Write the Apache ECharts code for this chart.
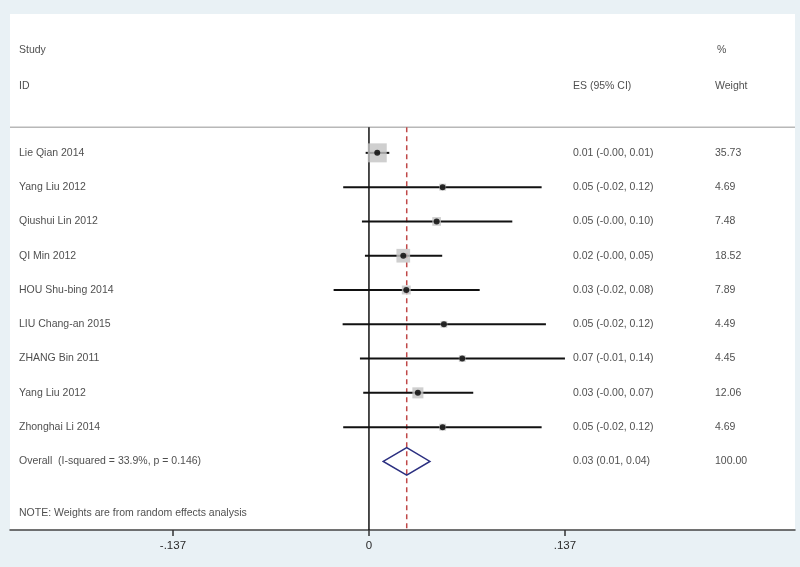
<!DOCTYPE html>
<html>
<head>
<meta charset="utf-8">
<script src="https://cdn.jsdelivr.net/npm/echarts@6/dist/echarts.min.js"></script>
<style>
html,body{margin:0;padding:0;background:#e9f1f5;}
#c{width:800px;height:567px;}
</style>
</head>
<body>
<div id="c"></div>
<script>
const studies = ['Lie Qian 2014','Yang Liu 2012','Qiushui Lin 2012','QI Min 2012','HOU Shu-bing 2014','LIU Chang-an 2015','ZHANG Bin 2011','Yang Liu 2012','Zhonghai Li 2014'];
const es = [0.0058, 0.0515, 0.0473, 0.0240, 0.0261, 0.0524, 0.0652, 0.0342, 0.0515];
const lo = [-0.0023, -0.0180, -0.0049, -0.0028, -0.0247, -0.0184, -0.0063, -0.0040, -0.0180];
const hi = [0.0142, 0.1207, 0.1002, 0.0512, 0.0774, 0.1237, 0.1370, 0.0729, 0.1207];
const weights = [35.73, 4.69, 7.48, 18.52, 7.89, 4.49, 4.45, 12.06, 4.69];
const esLabels = ['0.01 (-0.00, 0.01)','0.05 (-0.02, 0.12)','0.05 (-0.00, 0.10)','0.02 (-0.00, 0.05)','0.03 (-0.02, 0.08)','0.05 (-0.02, 0.12)','0.07 (-0.01, 0.14)','0.03 (-0.00, 0.07)','0.05 (-0.02, 0.12)'];
const weightLabels = ['35.73','4.69','7.48','18.52','7.89','4.49','4.45','12.06','4.69'];
const overallLabel = 'Overall  (I-squared = 33.9%, p = 0.146)';
const overallEs = 0.0264, overallLo = 0.0100, overallHi = 0.0426;
const overallEsLabel = '0.03 (0.01, 0.04)';
const overallWeightLabel = '100.00';
const noteText = 'NOTE: Weights are from random effects analysis';
const tickValues = [-0.137, 0, 0.137];
const tickLabels = ['-.137', '0', '.137'];

const overallRow = studies.length;
const FONT = 'Liberation Sans';
const TXT = '#222';

function textSeries(items, col) {
  return {
    type: 'scatter', xAxisIndex: 1, yAxisIndex: 0, symbolSize: 0, silent: true,
    data: items.map(it => ({value: [col, it[1]], name: it[0]})),
    label: {show: true, position: 'right', distance: 0, formatter: p => p.name,
      color: TXT, fontFamily: FONT, fontSize: 10.5}
  };
}

const leftCol = studies.map((s, i) => [s, i]).concat([[overallLabel, overallRow], [noteText, overallRow + 1.5], ['Study', -3], ['ID', -1.95]]);
const esCol = esLabels.map((s, i) => [s, i]).concat([[overallEsLabel, overallRow], ['ES (95% CI)', -1.95]]);
const wCol = weightLabels.map((s, i) => [s, i]).concat([[overallWeightLabel, overallRow], ['Weight', -1.95]]);
const pctCol = [['%', -3]];

const option = {
  backgroundColor: '#e9f1f5',
  animation: false,
  grid: {left: 10, right: 5, top: 14, bottom: 37, show: true, backgroundColor: '#ffffff', borderWidth: 0},
  xAxis: [
    {type: 'value', min: -0.2509, max: 0.2978, splitLine: {show: false},
      axisLine: {show: true, onZero: false, lineStyle: {color: '#444', width: 1.5}},
      axisTick: {show: true, customValues: tickValues, length: 6, lineStyle: {color: '#333', width: 1.5}},
      axisLabel: {customValues: tickValues, margin: 10, color: '#2a2a2a', fontFamily: FONT, fontSize: 11.5,
        formatter: v => { const k = tickValues.findIndex(t => Math.abs(t - v) < 1e-9); return k >= 0 ? tickLabels[k] : ''; }}
    },
    {type: 'value', min: 10, max: 795, show: false}
  ],
  yAxis: {type: 'value', inverse: true, min: -4.05, max: 11, show: false},
  series: [
    {
      type: 'custom', xAxisIndex: 1, silent: true,
      data: [[10, 795, -0.75]],
      renderItem: (params, api) => {
        const a = api.coord([api.value(0), api.value(2)]);
        const b = api.coord([api.value(1), api.value(2)]);
        return {type: 'line', shape: {x1: a[0], y1: a[1], x2: b[0], y2: b[1]}, style: {stroke: '#b8b8b8', lineWidth: 1.5}};
      }
    },
    {
      type: 'custom', silent: true,
      data: [[0, -0.75, 11, 0], [overallEs, -0.75, 11, 1]],
      renderItem: (params, api) => {
        const a = api.coord([api.value(0), api.value(1)]);
        const b = api.coord([api.value(0), api.value(2)]);
        const dashed = api.value(3) === 1;
        return {type: 'line', shape: {x1: a[0], y1: a[1], x2: b[0], y2: b[1]},
          style: dashed ? {stroke: '#c04848', lineWidth: 1.5, lineDash: [5, 4]} : {stroke: '#111', lineWidth: 1.5}};
      }
    },
    {
      type: 'scatter', symbol: 'rect', silent: true,
      data: es.map((v, i) => [v, i, weights[i]]),
      symbolSize: d => 19 * Math.sqrt(d[2] / 35.73),
      itemStyle: {color: '#c3c3c3'}
    },
    {
      type: 'custom', silent: true,
      data: lo.map((v, i) => [v, hi[i], i]),
      encode: {x: [0, 1], y: 2},
      renderItem: (params, api) => {
        const a = api.coord([api.value(0), api.value(2)]);
        const b = api.coord([api.value(1), api.value(2)]);
        return {type: 'line', shape: {x1: a[0], y1: a[1], x2: b[0], y2: b[1]}, style: {stroke: '#111', lineWidth: 2}};
      }
    },
    {
      type: 'scatter', symbol: 'circle', symbolSize: 6, silent: true,
      data: es.map((v, i) => [v, i]),
      itemStyle: {color: '#000'}
    },
    {
      type: 'custom', silent: true,
      data: [[overallLo, overallEs, overallHi, overallRow]],
      encode: {x: [0, 2], y: 3},
      renderItem: (params, api) => {
        const r = api.value(3);
        const p = [
          api.coord([api.value(0), r]),
          api.coord([api.value(1), r - 0.4]),
          api.coord([api.value(2), r]),
          api.coord([api.value(1), r + 0.4])
        ];
        return {type: 'polygon', shape: {points: p}, style: {fill: 'none', stroke: '#2b2f80', lineWidth: 1.5}};
      }
    },
    textSeries(leftCol, 19),
    textSeries(esCol, 573),
    textSeries(wCol, 715),
    textSeries(pctCol, 717)
  ]
};

const chart = echarts.init(document.getElementById('c'), null, {renderer: 'canvas'});
chart.setOption(option);
</script>
</body>
</html>
